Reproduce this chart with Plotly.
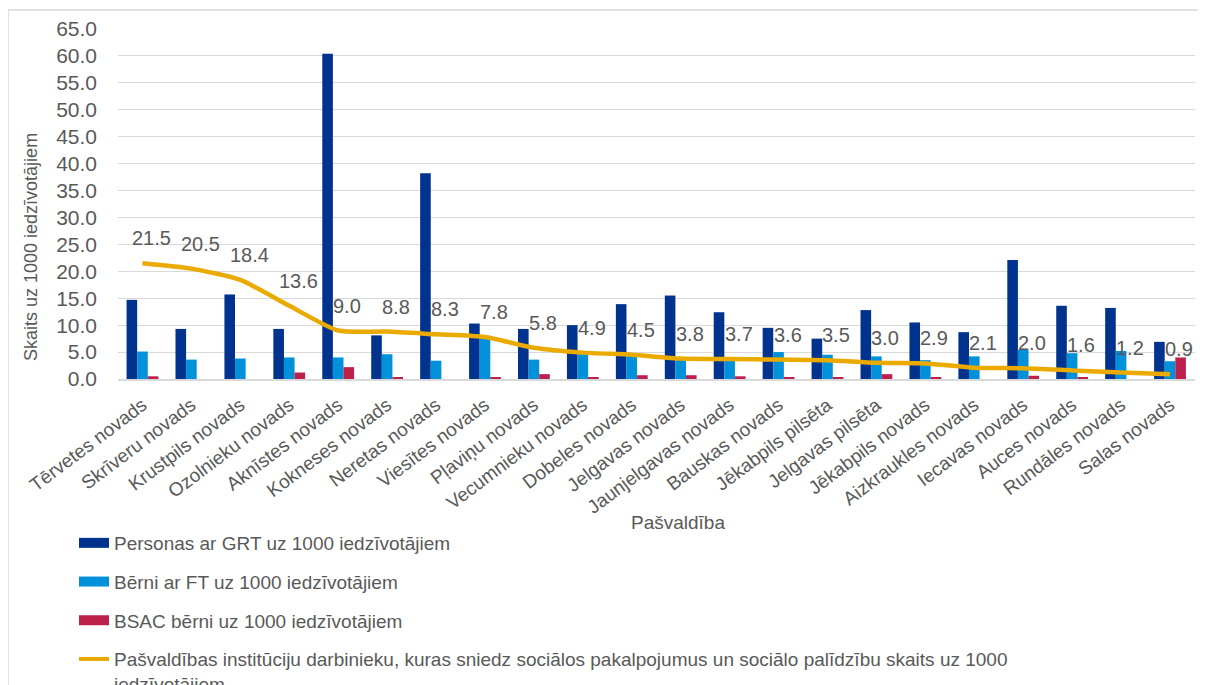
import plotly.graph_objects as go

categories = ["Tērvetes novads", "Skrīveru novads", "Krustpils novads", "Ozolnieku novads",
              "Aknīstes novads", "Kokneses novads", "Neretas novads", "Viesītes novads",
              "Pļaviņu novads", "Vecumnieku novads", "Dobeles novads", "Jelgavas novads",
              "Jaunjelgavas novads", "Bauskas novads", "Jēkabpils pilsēta", "Jelgavas pilsēta",
              "Jēkabpils novads", "Aizkraukles novads", "Iecavas novads", "Auces novads",
              "Rundāles novads", "Salas novads"]

grt = [14.7, 9.3, 15.7, 9.3, 60.4, 8.1, 38.2, 10.3, 9.3, 10.0, 13.9, 15.5,
       12.4, 9.5, 7.5, 12.8, 10.5, 8.7, 22.1, 13.6, 13.2, 6.9]
ft = [5.1, 3.6, 3.8, 4.0, 4.0, 4.6, 3.4, 7.6, 3.6, 4.6, 4.3, 4.0,
      3.6, 5.0, 4.5, 4.2, 3.5, 4.2, 5.4, 4.8, 5.2, 3.3]
bsac = [0.5, 0.0, 0.0, 1.2, 2.2, 0.3, 0.0, 0.3, 0.9, 0.3, 0.7, 0.7,
        0.5, 0.3, 0.3, 0.9, 0.3, 0.0, 0.6, 0.3, 0.0, 4.0]
staff = [21.5, 20.5, 18.4, 13.6, 9.0, 8.8, 8.3, 7.8, 5.8, 4.9, 4.5, 3.8,
         3.7, 3.6, 3.5, 3.0, 2.9, 2.1, 2.0, 1.6, 1.2, 0.9]

names = ["Personas ar GRT uz 1000 iedzīvotājiem",
         "Bērni ar FT uz 1000 iedzīvotājiem",
         "BSAC bērni uz 1000 iedzīvotājiem",
         "Pašvaldības institūciju darbinieku, kuras sniedz sociālos pakalpojumus un sociālo palīdzību skaits uz 1000<br>iedzīvotājiem"]
colors = ["#00338D", "#0091DA", "#BC204B", "#EAAA00"]
yticks = [0, 5, 10, 15, 20, 25, 30, 35, 40, 45, 50, 55, 60, 65]

FONT = "Liberation Sans, Arial, sans-serif"
GRAY = "#595959"

# page offset (default body margin)
OFF = 8
W, H = 1206, 685
# plot area in screen pixels: x 118..1195, y 29..379
L = 118 - OFF
T = 29 - OFF
R = W - (1195 - OFF)
B = H - (379 - OFF)
PW, PH = W - L - R, H - T - B


def px_x(p):
    return (p - OFF - L) / PW


def px_y(p):
    return (H - B - (p - OFF)) / PH


fig = go.Figure()
for vals, nm, col in zip([grt, ft, bsac], names[:3], colors[:3]):
    fig.add_trace(go.Bar(x=categories, y=vals, name=nm, marker_color=col,
                         marker_line_width=0, showlegend=False))

fig.add_trace(go.Scatter(x=categories, y=staff, mode="lines", name=names[3],
                         line=dict(color=colors[3], width=4.5, shape="spline", smoothing=0.6),
                         showlegend=False))

# legend entries
for i, (nm, col) in enumerate(zip(names, colors)):
    fig.add_trace(go.Scatter(x=[None], y=[None], mode="lines", name=nm,
                             legendgroup=f"g{i}",
                             line=dict(color=col, width=10 if i < 3 else 4)))

for c, v in zip(categories, staff):
    fig.add_annotation(x=c, y=v, text=f"{v:.1f}", showarrow=False,
                       xshift=9, yshift=25,
                       font=dict(family=FONT, size=20, color=GRAY))

fig.add_annotation(xref="paper", yref="paper", x=px_x(678), y=px_y(522),
                   xanchor="center", yanchor="middle",
                   text="Pašvaldība", showarrow=False,
                   font=dict(family=FONT, size=19, color=GRAY))
fig.add_annotation(xref="paper", yref="paper", x=px_x(31), y=px_y(247),
                   xanchor="center", yanchor="middle",
                   text="Skaits uz 1000 iedzīvotājiem", showarrow=False, textangle=-90,
                   font=dict(family=FONT, size=18, color=GRAY))

fig.add_shape(type="rect", xref="paper", yref="paper",
              x0=px_x(8), x1=px_x(1240), y0=px_y(720), y1=px_y(10),
              line=dict(color="#D9D9D9", width=1.5), fillcolor="rgba(0,0,0,0)", layer="below")

fig.update_layout(
    width=W, height=H,
    margin=dict(l=L, r=R, t=T, b=B, autoexpand=False),
    paper_bgcolor="white", plot_bgcolor="white",
    barmode="group", bargap=0.35, bargroupgap=0,
    font=dict(family=FONT, color=GRAY),
    legend=dict(x=(74 - OFF) / W, y=1 - (524 - OFF) / H, xref="container", yref="container",
                xanchor="left", yanchor="top",
                orientation="v", valign="top", tracegroupgap=11,
                font=dict(family=FONT, size=19, color=GRAY),
                bgcolor="rgba(0,0,0,0)"),
    showlegend=True,
)
fig.update_xaxes(tickangle=-37, tickfont=dict(family=FONT, size=19, color=GRAY),
                 showgrid=False, showline=True, linecolor="#D9D9D9", linewidth=1.5,
                 ticks="", ticklabelstandoff=6, automargin=False)
fig.update_yaxes(range=[0, 65], tickvals=yticks, tickformat=".1f",
                 tickfont=dict(family=FONT, size=21, color=GRAY),
                 showgrid=True, gridcolor="#D9D9D9", gridwidth=1.2,
                 zeroline=False, showline=False, ticks="", ticklabelstandoff=20,
                 automargin=False)

fig.write_html("out.html")
